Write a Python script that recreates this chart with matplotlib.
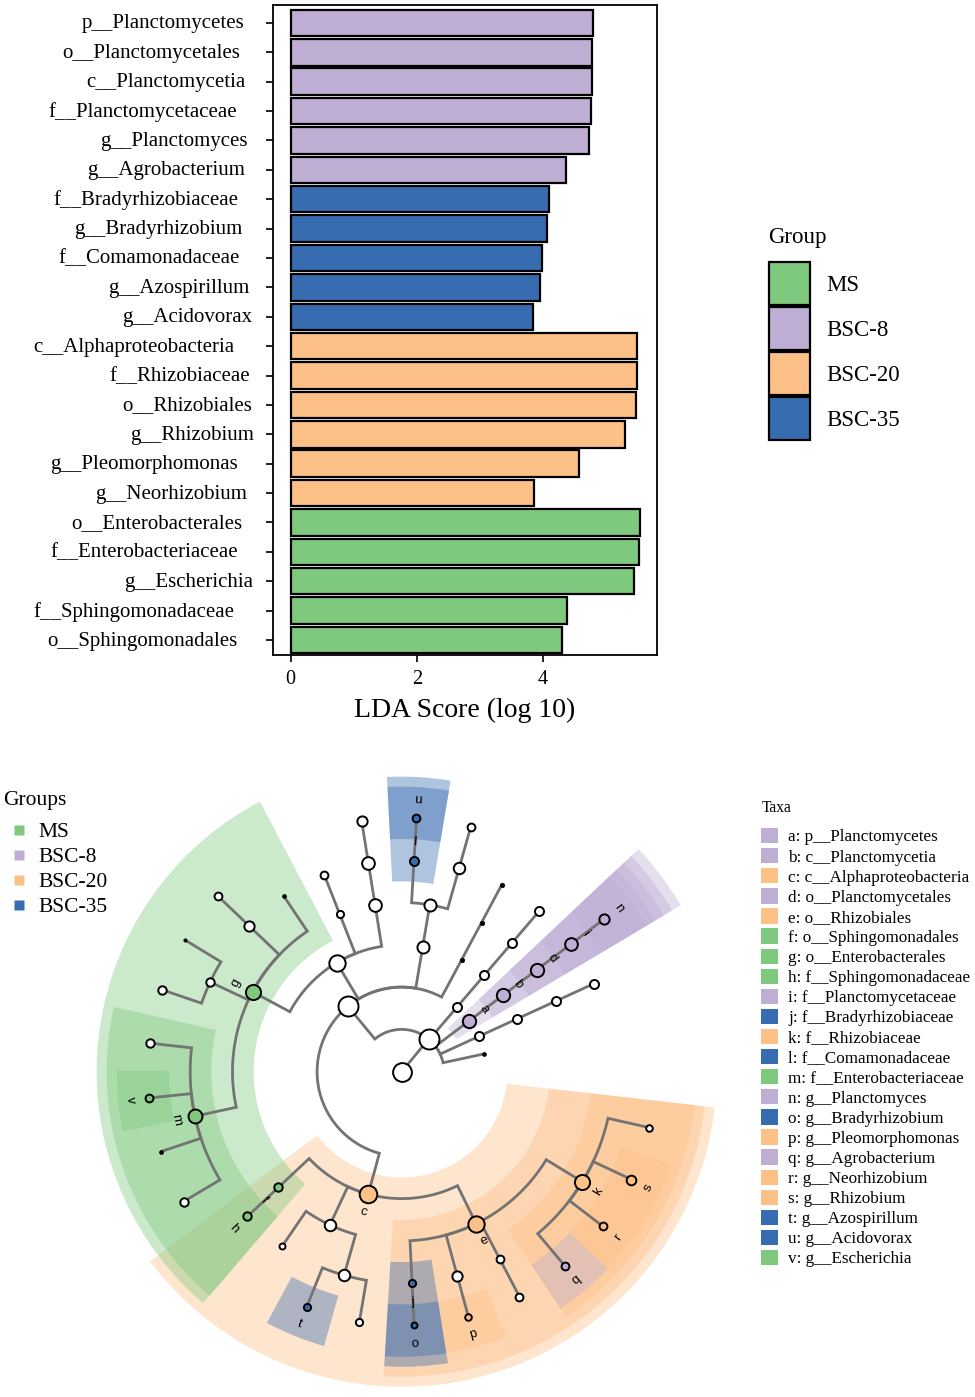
import numpy as np
import matplotlib.pyplot as plt
import matplotlib.transforms as mtransforms
from matplotlib.patches import Patch, Wedge
from matplotlib.lines import Line2D

plt.rcParams['font.family'] = ['Liberation Serif', 'DejaVu Serif']

# ---------------- data: LDA scores (top to bottom) ----------------
features = ["p__Planctomycetes", "o__Planctomycetales", "c__Planctomycetia",
            "f__Planctomycetaceae", "g__Planctomyces", "g__Agrobacterium",
            "f__Bradyrhizobiaceae", "g__Bradyrhizobium", "f__Comamonadaceae",
            "g__Azospirillum", "g__Acidovorax", "c__Alphaproteobacteria",
            "f__Rhizobiaceae", "o__Rhizobiales", "g__Rhizobium",
            "g__Pleomorphomonas", "g__Neorhizobium", "o__Enterobacterales",
            "f__Enterobacteriaceae", "g__Escherichia", "f__Sphingomonadaceae",
            "o__Sphingomonadales"]
lda_scores = [4.79, 4.78, 4.78, 4.77, 4.73, 4.37,
              4.09, 4.07, 3.98, 3.96, 3.84,
              5.50, 5.49, 5.48, 5.31, 4.58, 3.86,
              5.54, 5.52, 5.45, 4.39, 4.31]
feature_groups = ["BSC-8"] * 6 + ["BSC-35"] * 5 + ["BSC-20"] * 6 + ["MS"] * 5

groups = ["MS", "BSC-8", "BSC-20", "BSC-35"]
group_colors = {"MS": "#7fc97f", "BSC-8": "#beaed4",
                "BSC-20": "#fdc086", "BSC-35": "#386cb0"}

# ---------------- data: cladogram tree (child, parent), depth-first order ----------------
tree = [
    ("root", None), ("k__Bacteria", "root"),
    ("p__unk1", "k__Bacteria"),
    ("p__unk2", "k__Bacteria"), ("c__unk2", "p__unk2"), ("o__unk2", "c__unk2"), ("f__unk2", "o__unk2"),
    ("p__Planctomycetes", "k__Bacteria"), ("c__Planctomycetia", "p__Planctomycetes"),
    ("o__Planctomycetales", "c__Planctomycetia"), ("f__Planctomycetaceae", "o__Planctomycetales"),
    ("g__Planctomyces", "f__Planctomycetaceae"),
    ("p__unk4", "k__Bacteria"), ("c__unk4", "p__unk4"), ("o__unk4", "c__unk4"), ("f__unk4", "o__unk4"),
    ("p__Proteobacteria", "k__Bacteria"),
    ("c__unk5", "p__Proteobacteria"), ("o__unk5", "c__unk5"), ("f__unk5", "o__unk5"),
    ("c__Betaproteobacteria", "p__Proteobacteria"), ("o__Burkholderiales", "c__Betaproteobacteria"),
    ("f__unk6", "o__Burkholderiales"), ("g__unk6", "f__unk6"),
    ("f__Comamonadaceae", "o__Burkholderiales"), ("g__Acidovorax", "f__Comamonadaceae"),
    ("c__Gammaproteobacteria", "p__Proteobacteria"),
    ("o__unk7", "c__Gammaproteobacteria"), ("f__unk7", "o__unk7"), ("g__unk7", "f__unk7"),
    ("o__unk8", "c__Gammaproteobacteria"), ("f__unk8", "o__unk8"),
    ("o__Enterobacterales", "c__Gammaproteobacteria"),
    ("f__unk9", "o__Enterobacterales"),
    ("f__unk10", "o__Enterobacterales"), ("g__unk10", "f__unk10"),
    ("f__unk11", "o__Enterobacterales"), ("g__unk11a", "f__unk11"), ("g__unk11b", "f__unk11"),
    ("f__Enterobacteriaceae", "o__Enterobacterales"), ("g__unk12a", "f__Enterobacteriaceae"),
    ("g__Escherichia", "f__Enterobacteriaceae"), ("g__unk12c", "f__Enterobacteriaceae"),
    ("g__unk12d", "f__Enterobacteriaceae"),
    ("c__Alphaproteobacteria", "p__Proteobacteria"),
    ("o__Sphingomonadales", "c__Alphaproteobacteria"), ("f__Sphingomonadaceae", "o__Sphingomonadales"),
    ("o__Rhodospirillales", "c__Alphaproteobacteria"), ("f__unk13", "o__Rhodospirillales"),
    ("f__unk14", "o__Rhodospirillales"), ("g__Azospirillum", "f__unk14"), ("g__unk14", "f__unk14"),
    ("o__Rhizobiales", "c__Alphaproteobacteria"),
    ("f__Bradyrhizobiaceae", "o__Rhizobiales"), ("g__Bradyrhizobium", "f__Bradyrhizobiaceae"),
    ("f__unk15", "o__Rhizobiales"), ("g__Pleomorphomonas", "f__unk15"),
    ("f__unk16", "o__Rhizobiales"), ("g__unk16", "f__unk16"),
    ("f__Rhizobiaceae", "o__Rhizobiales"), ("g__Agrobacterium", "f__Rhizobiaceae"),
    ("g__Neorhizobium", "f__Rhizobiaceae"), ("g__Rhizobium", "f__Rhizobiaceae"),
    ("g__unk17", "f__Rhizobiaceae"),
]
# relative abundance score of each node (drives circle size)
node_abundance = [17, 18,
                  3.5,
                  9, 9, 9, 9,
                  12.5, 12.5, 12.5, 12, 10,
                  9, 9, 9, 9,
                  18,
                  4, 4, 4,
                  11.5, 11.5, 11, 8, 9, 8,
                  15, 12, 12, 10, 7.5, 8,
                  14, 3.5, 10, 8, 8.5, 3, 8.5,
                  13, 8.5, 8, 3.5, 8.5,
                  16, 8.5, 8.5,
                  11, 6.5, 11, 7.5, 7.5,
                  15, 7.5, 6.5, 10, 7, 8, 8,
                  14, 8, 8, 9.5, 7]

# biomarkers (letter, taxon, group)
marker_letters = list("abcdefghijklmnopqrstuv")
marker_taxa = ["p__Planctomycetes", "c__Planctomycetia", "c__Alphaproteobacteria",
               "o__Planctomycetales", "o__Rhizobiales", "o__Sphingomonadales",
               "o__Enterobacterales", "f__Sphingomonadaceae", "f__Planctomycetaceae",
               "f__Bradyrhizobiaceae", "f__Rhizobiaceae", "f__Comamonadaceae",
               "f__Enterobacteriaceae", "g__Planctomyces", "g__Bradyrhizobium",
               "g__Pleomorphomonas", "g__Agrobacterium", "g__Neorhizobium",
               "g__Rhizobium", "g__Azospirillum", "g__Acidovorax", "g__Escherichia"]
marker_groups = ["BSC-8", "BSC-8", "BSC-20", "BSC-8", "BSC-20", "MS", "MS", "MS",
                 "BSC-8", "BSC-35", "BSC-20", "BSC-35", "MS", "BSC-8", "BSC-35",
                 "BSC-20", "BSC-8", "BSC-20", "BSC-20", "BSC-35", "BSC-35", "MS"]

# ================= figure =================
fig = plt.figure(figsize=(9.75, 13.97), dpi=100)
H = 1397.0

# ---------- LDA bar chart ----------
ax = fig.add_axes([273 / 975, 1 - 655 / H, 384 / 975, 650 / H])
ypos = np.arange(len(features))[::-1]
ax.barh(ypos, lda_scores, height=0.9,
        color=[group_colors[g] for g in feature_groups],
        edgecolor='black', linewidth=1.6)
ax.set_xlim(-0.28, 5.81)
ax.set_ylim(-0.51, 21.61)
ax.set_xticks([0, 2, 4])
ax.set_yticks(ypos)
ax.set_yticklabels([])
ax.tick_params(axis='both', direction='out', length=5, width=1.2, labelsize=14.5, pad=6)
for sp in ax.spines.values():
    sp.set_linewidth(1.3)
ax.set_xlabel("LDA Score (log 10)", fontsize=20, labelpad=6)

fig.canvas.draw()
renderer = fig.canvas.get_renderer()
for y, name in zip(ypos, features):
    t = ax.text(0, y, name, transform=ax.get_yaxis_transform(),
                fontsize=15, ha='left', va='center')
    w = t.get_window_extent(renderer).width
    t.set_transform(mtransforms.offset_copy(ax.get_yaxis_transform(), fig=fig,
                                            x=13 - 1.257 * w, y=-1, units='dots'))

fig.text(768 / 975, 1 - 237 / H, "Group", fontsize=16.5, ha='left', va='center')
handles = [Patch(facecolor=group_colors[g], edgecolor='black', linewidth=1.6, label=g)
           for g in groups]
fig.legend(handles=handles, loc='upper left',
           bbox_to_anchor=(769 / 975, 1 - 262 / H), frameon=False,
           fontsize=16.5, handlelength=1.79, handleheight=2.52,
           labelspacing=0.08, handletextpad=0.7, borderpad=0, borderaxespad=0)

# ---------- cladogram ----------
cx, cy, unit = 401.7, 1071.7, 42.3       # centre (pixels) and ring step (pixels)
axc = fig.add_axes([0, 0, 750 / 975, (H - 760) / H])
axc.set_xlim(-cx / unit, (750 - cx) / unit)
axc.set_ylim(-(H - cy) / unit, (cy - 760) / unit)
axc.axis('off')

names = [n for n, _ in tree]
parent = dict(tree)
children = {n: [] for n in names}
for n, p in tree:
    if p is not None:
        children[p].append(n)
level = {}
for n in names:
    level[n] = 0 if parent[n] is None else level[parent[n]] + 1

first_angle, step = 12.2, 12.41
angle = {}
leaves = [n for n in names if not children[n]]
for i, n in enumerate(leaves):
    angle[n] = first_angle + i * step
for n in reversed(names):
    if children[n]:
        angle[n] = np.mean([angle[c] for c in children[n]])


def leaf_span(n):
    if not children[n]:
        return angle[n], angle[n]
    spans = [leaf_span(c) for c in children[n]]
    return min(s[0] for s in spans), max(s[1] for s in spans)


# shaded sectors for biomarkers
for let, tax, grp in zip(marker_letters, marker_taxa, marker_groups):
    L = level[tax]
    a0, a1 = leaf_span(tax)
    r_out = 6.74 + 0.236 * (6 - L)
    r_in = L - 0.5
    axc.add_patch(Wedge((0, 0), r_out, a0 - step / 2, a1 + step / 2, width=r_out - r_in,
                        facecolor=group_colors[grp], alpha=0.4, lw=0, zorder=1))

# branches
for n, p in tree:
    if p is None:
        continue
    rp, rc = level[p], level[n]
    th = np.radians(np.linspace(angle[p], angle[n], 60))
    xs = np.r_[rp * np.cos(th), rc * np.cos(th[-1])]
    ys = np.r_[rp * np.sin(th), rc * np.sin(th[-1])]
    axc.plot(xs, ys, color='#737373', lw=2.0, solid_capstyle='butt',
             solid_joinstyle='miter', zorder=2)

# nodes
marker_color = {t: group_colors[g] for t, g in zip(marker_taxa, marker_groups)}
for n, ab in zip(names, node_abundance):
    th = np.radians(angle[n])
    r = level[n]
    if ab < 5:
        fc, lw = 'black', 0.5
        d_pt = ab * 0.8
    else:
        fc, lw = marker_color.get(n, 'white'), 1.4
        d_pt = ab * 1.22 * 0.72 - lw
    axc.scatter([r * np.cos(th)], [r * np.sin(th)], s=d_pt ** 2, facecolor=fc,
                edgecolor='black', linewidth=lw, zorder=3)

# letters
for let, tax in zip(marker_letters, marker_taxa):
    th = angle[tax]
    r = level[tax] + 0.44
    rot = (th - 90) % 360
    if 90 < rot < 270:
        rot -= 180
    axc.text(r * np.cos(np.radians(th)), r * np.sin(np.radians(th)), let,
             fontsize=9.5, family=['Liberation Sans', 'DejaVu Sans'],
             ha='center', va='center', rotation=rot, zorder=4)

# legends of the cladogram
fig.text(3 / 975, 1 - 800 / H, "Groups", fontsize=15.5, ha='left', va='center')
g_handles = [Line2D([], [], marker='s', ls='', markerfacecolor=group_colors[g],
                    markeredgecolor='none', markersize=7, label=g) for g in groups]
fig.legend(handles=g_handles, loc='upper left',
           bbox_to_anchor=(2 / 975, 1 - 822 / H), frameon=False,
           fontsize=15.5, handlelength=1.6, handletextpad=0.1,
           labelspacing=0.23, borderpad=0, borderaxespad=0)

fig.text(762 / 975, 1 - 808 / H, "Taxa", fontsize=11.2, ha='left', va='center')
t_handles = [Patch(facecolor=group_colors[g], edgecolor='none', label=f"{l}: {t}")
             for l, t, g in zip(marker_letters, marker_taxa, marker_groups)]
fig.legend(handles=t_handles, loc='upper left',
           bbox_to_anchor=(761 / 975, 1 - 828 / H), frameon=False,
           fontsize=12.3, handlelength=1.0, handleheight=1.0,
           labelspacing=0.152, handletextpad=0.6, borderpad=0, borderaxespad=0)

fig.savefig("out.png", dpi=100)
